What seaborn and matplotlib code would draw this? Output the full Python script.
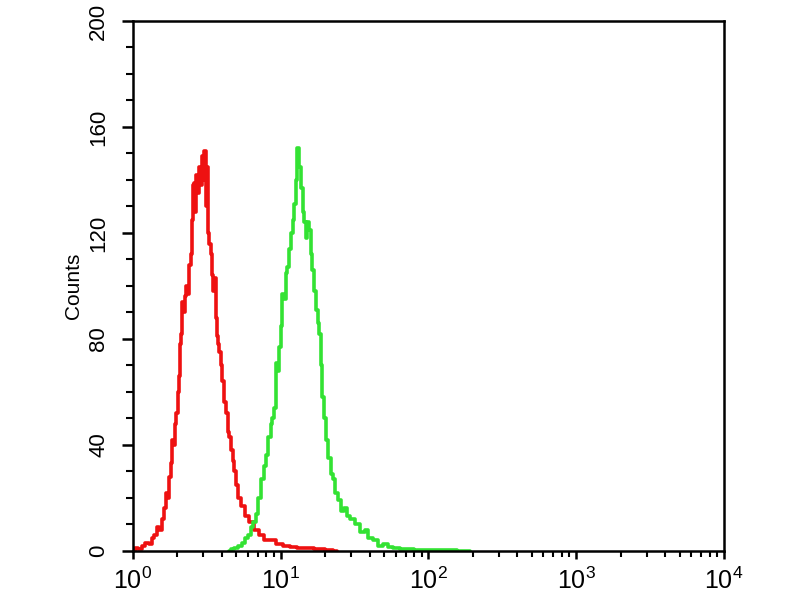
import matplotlib
matplotlib.use("Agg")
import matplotlib.pyplot as plt
import matplotlib.ticker as mticker
import numpy as np
import pandas as pd
import seaborn as sns

# red histogram (isotype control)
red_x = [1.00, 1.06, 1.12, 1.18, 1.25, 1.31, 1.37, 1.43, 1.48, 1.54, 1.60, 1.65,
         1.70, 1.74, 1.78, 1.83, 1.87, 1.91, 1.95, 1.99, 2.04, 2.08, 2.12, 2.15,
         2.18, 2.23, 2.28, 2.32, 2.36, 2.43, 2.51, 2.55, 2.59, 2.63, 2.67, 2.71,
         2.78, 2.84, 2.91, 2.98, 3.02, 3.07, 3.14, 3.22, 3.27, 3.32, 3.40, 3.48,
         3.54, 3.59, 3.67, 3.76, 3.82, 3.88, 3.97, 4.06, 4.19, 4.33, 4.45, 4.54,
         4.68, 4.80, 4.90, 5.05, 5.30, 5.55, 5.91, 6.30, 6.91, 7.40, 8.07, 8.80,
         9.89, 11.0, 12.2, 13.5, 15.5, 18.4, 21.5, 24.0]
red_counts = [0, 1, 0.5, 2, 3, 2.5, 5, 6, 9, 8, 12, 16,
              22, 20, 28, 33, 42, 40, 48, 52, 60, 66, 78, 82,
              94, 90, 96, 100, 97, 108, 112, 125, 138, 139, 128, 142,
              135, 145, 138, 149, 140, 151, 130, 145, 120, 116, 112, 104,
              98, 103, 88, 81, 78, 75, 70, 64, 56, 52, 45, 43,
              38, 34, 30, 25, 20, 17, 13, 11, 8, 6, 4, 4,
              2.5, 2, 1.5, 1, 1.2, 0.5, 0.3, 0]

# green histogram (stained sample)
green_x = [4.50, 4.75, 5.00, 5.30, 5.60, 5.91, 6.15, 6.39, 6.65, 6.91, 7.24, 7.59,
           7.85, 8.07, 8.45, 8.70, 8.87, 9.14, 9.44, 9.65, 9.89, 10.1, 10.36, 10.69,
           11.0, 11.2, 11.56, 11.92, 12.2, 12.5, 12.8, 13.1, 13.5, 13.93, 14.3, 14.6,
           15.0, 15.3, 15.8, 16.2, 16.5, 17.0, 17.6, 18.0, 18.4, 18.9, 19.3, 20.0,
           20.6, 21.4, 22.2, 23.0, 24.0, 25.2, 26.4, 27.5, 28.5, 30.8, 33.3, 36.0,
           38.0, 40.2, 44.0, 47.0, 51.0, 55.0, 61.0, 68.0, 75.0, 85.0, 102, 120,
           140, 170, 191]
green_counts = [0, 0.5, 1, 2, 3, 5, 6, 9, 11, 14, 20, 27,
                32, 36, 43, 48, 50, 54, 71, 68, 77, 85, 97, 95,
                105, 107, 114, 120, 125, 131, 140, 152, 145, 137, 128, 124,
                118, 124, 121, 112, 106, 98, 91, 86, 82, 70, 58, 50,
                42, 35, 29, 27, 22, 19, 15, 16, 13, 12, 10, 7,
                8, 5, 4, 2, 2.5, 1.5, 1, 0.8, 0.6, 0.4, 0.3, 0.2,
                0.3, 0.1, 0]

y_ticks = [0, 40, 80, 120, 160, 200]
x_ticks = [1, 10, 100, 1000, 10000]
x_labels = ["$10^{0}$", "$10^{1}$", "$10^{2}$", "$10^{3}$", "$10^{4}$"]

sns.set_style("ticks")
plt.rcParams["font.family"] = ["Liberation Sans", "DejaVu Sans"]
plt.rcParams["mathtext.fontset"] = "custom"
plt.rcParams["mathtext.rm"] = "Liberation Sans"
plt.rcParams["mathtext.it"] = "Liberation Sans"
plt.rcParams["text.color"] = "black"
plt.rcParams["axes.labelcolor"] = "black"
plt.rcParams["xtick.color"] = "black"
plt.rcParams["ytick.color"] = "black"

red = pd.DataFrame({"x": red_x, "count": red_counts})
green = pd.DataFrame({"x": green_x, "count": green_counts})

fig = plt.figure(figsize=(8, 6), dpi=100)
ax = fig.add_axes([0.166, 0.082, 0.739, 0.883])

sns.lineplot(data=red, x="x", y="count", ax=ax, color="#ee1111", lw=2.6,
             estimator=None, drawstyle="steps-mid")
sns.lineplot(data=green, x="x", y="count", ax=ax, color="#33e233", lw=2.6,
             estimator=None, drawstyle="steps-mid")

ax.set_xscale("log")
ax.set_xlim(1, 10000)
ax.set_ylim(0, 200)
ax.set_xticks(x_ticks)
ax.set_xticklabels(x_labels, fontsize=18)
ax.xaxis.set_minor_locator(mticker.LogLocator(base=10, subs=np.arange(2, 10)))
ax.xaxis.set_minor_formatter(mticker.NullFormatter())
ax.set_yticks(y_ticks)
ax.set_yticklabels([str(v) for v in y_ticks], fontsize=16, rotation=90, va="center")
ax.yaxis.set_minor_locator(mticker.MultipleLocator(10))

ax.tick_params(axis="both", which="major", direction="out", width=1.8, color="black")
ax.tick_params(axis="x", which="major", length=6, pad=6)
ax.tick_params(axis="y", which="major", length=8, pad=9)
ax.tick_params(axis="x", which="minor", direction="out", length=4, width=1.5)
ax.tick_params(axis="y", which="minor", direction="out", length=5, width=1.5)

for s in ax.spines.values():
    s.set_linewidth(1.8)
    s.set_color("black")

ax.set_xlabel("")
ax.set_ylabel("Counts", fontsize=15, labelpad=4)

fig.savefig("out.png", dpi=100)
